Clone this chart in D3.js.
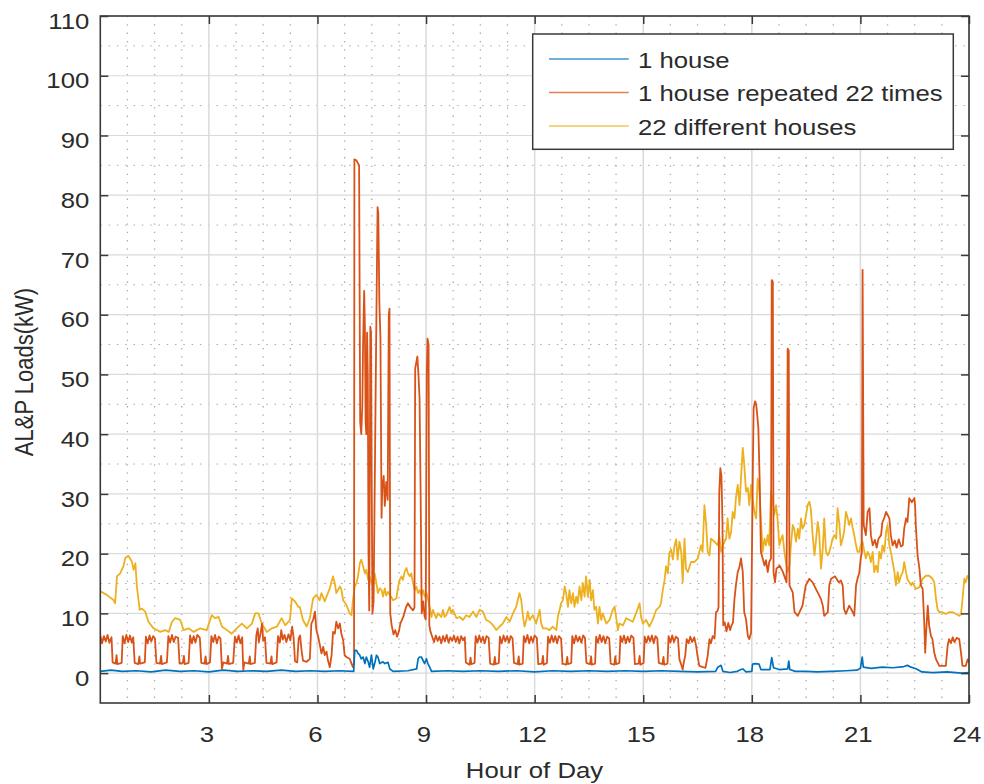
<!DOCTYPE html>
<html><head><meta charset="utf-8">
<script src="https://cdn.jsdelivr.net/npm/d3@7"></script>
<style>
html,body{margin:0;padding:0;background:#fff;}
svg{display:block;}
text{font-family:"Liberation Sans", Arial, Helvetica, sans-serif;}
</style></head><body>
<svg id="chart" width="984" height="784"></svg>
<script>
// ---------- data ----------
const xTicks = [3, 6, 9, 12, 15, 18, 21, 24];
const yTicks = [0, 10, 20, 30, 40, 50, 60, 70, 80, 90, 100, 110];
const xLabel = "Hour of Day";
const yLabel = "AL&P Loads(kW)";
const seriesNames = ["1 house", "1 house repeated 22 times", "22 different houses"];

// [hour, kW]
const oneHouse = [
[0,0.3],[0.3,0.5],[0.6,0.3],[1.0,0.4],[1.4,0.2],[1.8,0.5],[2.2,0.3],[2.6,0.4],[3.0,0.2],[3.4,0.5],[3.8,0.3],[4.2,0.4],[4.6,0.3],[5.0,0.5],[5.4,0.3],[5.8,0.4],[6.2,0.3],[6.6,0.4],[7.0,0.3],
[7.03,3.8],[7.08,3.8],[7.12,3.3],[7.16,3.1],[7.21,2.4],[7.26,2.7],[7.31,1.6],[7.35,2.7],[7.40,1.9],[7.44,1.0],[7.49,3.0],[7.54,0.7],[7.58,1.6],[7.63,3.0],[7.67,2.7],[7.72,1.6],[7.81,1.9],[7.86,1.6],[7.95,1.8],[8.0,0.7],[8.09,0.3],[8.5,0.4],[8.74,0.7],[8.78,2.4],[8.82,2.7],[8.87,2.7],[8.96,1.6],[9.01,2.4],[9.05,1.6],[9.10,1.0],[9.15,0.3],
[9.6,0.4],[10.0,0.3],[10.5,0.4],[11.0,0.3],[11.5,0.4],[12.0,0.2],[12.5,0.4],[13.0,0.3],[13.5,0.4],[14.0,0.3],[14.5,0.4],[15.0,0.3],[15.5,0.4],[16.0,0.3],[16.5,0.2],[17.0,0.3],
[17.06,1.0],[17.15,1.3],[17.2,0.3],[17.4,0.1],[17.6,0.3],[17.7,0.6],[17.75,0.7],[17.84,0.2],[18.0,0.3],[18.02,1.5],[18.1,1.6],[18.2,1.5],[18.25,0.6],[18.5,0.6],[18.55,2.6],[18.6,0.9],[18.76,0.6],[18.99,0.7],[19.02,2.0],[19.05,0.6],[19.2,0.3],[19.5,0.3],[19.8,0.2],[20.2,0.3],[20.6,0.4],[20.9,0.5],[21.0,0.8],[21.05,2.7],[21.08,1.0],[21.3,0.8],[21.6,1.0],[21.9,0.9],[22.2,1.1],[22.3,1.3],[22.4,1.0],[22.55,0.7],[22.7,0.2],[23.0,0.1],[23.4,0.2],[23.8,0.0],[24,0.1]
];

const oneHouseRepeated = [
[0,6.3],[0.05,5.0],[0.1,6.2],[0.15,5.3],[0.2,6.4],[0.25,5.1],[0.31,6.0],
[0.34,1.8],[0.42,1.6],[0.45,3.0],[0.47,1.5],[0.59,1.7],
[0.62,6.2],[0.67,5.0],[0.72,6.4],[0.77,5.2],[0.82,6.3],[0.87,5.1],[0.91,6.0],
[0.95,1.7],[1.05,1.5],[1.08,2.8],[1.1,1.6],[1.23,1.8],
[1.26,6.1],[1.31,5.0],[1.36,6.3],[1.41,5.3],[1.46,6.2],[1.51,5.8],
[1.55,1.7],[1.65,1.6],[1.68,2.9],[1.7,1.5],[1.84,1.8],
[1.88,6.2],[1.93,5.1],[1.98,6.4],[2.03,5.2],[2.08,6.1],[2.15,5.9],
[2.19,1.6],[2.28,1.7],[2.31,2.9],[2.33,1.5],[2.44,1.7],
[2.48,6.3],[2.53,5.0],[2.58,6.2],[2.63,5.1],[2.68,6.4],[2.75,5.9],
[2.79,1.7],[2.88,1.6],[2.91,2.8],[2.93,1.5],[3.03,1.8],
[3.07,6.2],[3.12,5.2],[3.17,6.4],[3.22,5.0],[3.27,6.1],[3.32,5.8],
[3.36,0.7],[3.4,1.8],[3.5,1.6],[3.53,2.9],[3.55,1.5],[3.67,1.7],
[3.72,6.1],[3.77,5.1],[3.82,6.3],[3.87,5.0],[3.92,6.0],
[3.95,0.5],[3.98,1.8],[4.1,1.6],[4.13,2.8],[4.15,1.5],[4.27,1.7],
[4.31,6.3],[4.35,7.5],[4.38,5.2],[4.42,6.4],[4.47,8.3],[4.5,5.4],[4.55,6.0],
[4.59,1.7],[4.7,1.6],[4.73,2.8],[4.75,1.5],[4.87,1.8],
[4.91,6.2],[4.96,5.1],[5.0,7.2],[5.04,5.6],[5.09,6.4],[5.14,5.2],[5.2,6.5],[5.25,5.5],[5.3,7.8],[5.34,6.0],
[5.38,2.0],[5.44,1.8],[5.48,5.8],[5.52,6.3],[5.56,3.8],[5.6,2.1],[5.7,1.9],[5.79,2.4],
[5.83,8.3],[5.88,8.9],[5.93,10.3],[5.97,7.2],[6.02,6.1],[6.06,4.9],[6.11,3.3],[6.16,4.4],[6.2,3.0],[6.25,3.6],[6.29,2.1],[6.34,1.0],[6.39,3.0],
[6.43,6.9],[6.48,6.6],[6.52,8.6],[6.57,7.5],[6.62,8.3],[6.66,6.6],[6.71,5.5],[6.75,3.0],[6.8,2.7],[6.89,2.4],[6.94,1.6],[6.98,1.0],[7.01,1.8],
[7.02,86.0],[7.08,85.8],[7.15,85.0],[7.18,42],[7.21,40],[7.24,45],[7.26,55],[7.29,64],[7.31,58],[7.33,42],[7.35,40],[7.37,57],[7.39,50],[7.41,20],[7.43,10.5],[7.45,40],[7.46,58],[7.48,57],[7.5,30],[7.52,10],[7.55,12],[7.58,30],[7.62,55],[7.66,78],[7.68,77],[7.71,62],[7.74,56],[7.77,26],[7.79,31],[7.83,33],[7.86,28],[7.9,32],[7.94,29],[7.97,60],[7.99,61],
[8.01,10],[8.05,8.0],[8.1,6.5],[8.15,7.2],[8.2,6.1],[8.25,7.0],[8.29,8.3],[8.37,9.4],[8.45,11.1],[8.5,11.7],[8.57,11.0],[8.64,10.5],[8.68,11.0],
[8.7,51],[8.73,52],[8.76,53],[8.79,50],[8.82,46],[8.85,30],[8.88,10],[8.92,12],[8.96,9.5],[8.99,9],[9.02,50],[9.04,56],[9.07,55],[9.09,8],[9.12,7.0],[9.17,6.1],
[9.22,5.2],[9.27,6.3],[9.32,5.4],[9.37,6.1],[9.42,5.0],[9.47,6.2],[9.52,5.3],[9.57,6.4],[9.62,5.1],[9.67,6.0],[9.72,5.4],[9.77,6.3],[9.82,5.2],[9.87,6.1],[9.92,5.0],[9.97,6.2],[10.02,5.5],[10.07,6.0],
[10.1,1.8],[10.2,1.4],[10.23,2.6],[10.25,1.5],[10.34,1.7],
[10.37,6.2],[10.42,5.1],[10.47,6.3],[10.52,5.2],[10.57,6.1],[10.62,5.0],[10.67,6.2],[10.73,5.9],
[10.77,1.6],[10.87,1.4],[10.9,2.7],[10.92,1.5],[11.01,1.7],
[11.04,6.1],[11.09,5.0],[11.14,6.3],[11.19,5.3],[11.24,6.2],[11.29,5.1],[11.34,6.2],[11.39,5.8],
[11.43,1.7],[11.53,1.5],[11.56,2.8],[11.58,1.4],[11.67,1.6],
[11.7,6.2],[11.75,5.2],[11.8,6.4],[11.85,5.0],[11.9,6.1],[11.95,5.2],[12.0,6.3],[12.06,5.9],
[12.1,1.5],[12.2,1.6],[12.23,2.9],[12.25,1.4],[12.34,1.7],
[12.37,6.1],[12.42,5.1],[12.47,6.3],[12.52,5.2],[12.57,6.2],[12.62,5.0],[12.67,6.2],[12.73,5.8],
[12.77,1.6],[12.87,1.4],[12.9,2.7],[12.92,1.5],[13.01,1.7],
[13.04,6.2],[13.09,5.0],[13.14,6.3],[13.19,5.3],[13.24,6.1],[13.29,5.1],[13.34,6.3],[13.39,5.9],
[13.43,1.7],[13.53,1.5],[13.56,2.8],[13.58,1.4],[13.67,1.6],
[13.7,6.1],[13.75,5.1],[13.8,6.4],[13.85,5.2],[13.9,6.2],[13.95,5.0],[14.0,6.1],[14.06,5.8],
[14.1,1.6],[14.2,1.4],[14.23,2.8],[14.25,1.5],[14.34,1.7],
[14.37,6.2],[14.42,5.2],[14.47,6.3],[14.52,5.0],[14.57,6.1],[14.62,5.2],[14.67,6.3],[14.73,5.9],
[14.77,1.5],[14.87,1.6],[14.9,2.9],[14.92,1.4],[15.01,1.7],
[15.04,6.1],[15.09,5.1],[15.14,6.2],[15.19,5.3],[15.24,6.3],[15.29,5.0],[15.34,6.2],[15.39,5.8],
[15.43,1.7],[15.53,1.5],[15.56,2.7],[15.58,1.4],[15.67,1.6],
[15.7,6.2],[15.75,5.1],[15.8,6.3],[15.85,5.2],[15.9,6.1],[15.96,5.8],
[16.0,2.3],[16.05,1.4],[16.09,0.6],[16.12,1.8],[16.16,2.9],
[16.2,5.7],[16.25,5.0],[16.3,6.1],[16.35,5.2],[16.41,6.0],[16.46,4.6],[16.5,2.9],
[16.55,1.2],[16.65,1.0],[16.72,0.9],[16.78,2.9],
[16.83,5.7],[16.87,5.0],[16.92,6.2],[16.97,5.8],[17.01,10.2],[17.05,10.4],[17.08,11],
[17.1,30],[17.13,34.3],[17.16,33],[17.19,25],[17.21,8.0],[17.25,8.5],[17.3,7.0],[17.35,8.4],[17.4,7.2],[17.44,8.0],[17.48,8.5],[17.52,12.4],[17.56,14.7],[17.61,16.9],[17.66,17.8],[17.7,19.2],[17.75,16.9],[17.79,10.2],[17.84,9.0],[17.89,6.2],[17.93,5.7],[17.98,6.8],
[18.03,35],[18.05,44.4],[18.09,45.5],[18.12,45.0],[18.14,43.8],[18.18,41.1],[18.22,31.5],[18.25,20.3],[18.3,19.2],[18.35,18.0],[18.39,18.9],[18.44,16.9],[18.48,18.6],[18.53,19.2],
[18.55,65.8],[18.58,65.5],[18.6,16.9],[18.64,15.2],[18.68,17.5],[18.77,18.0],[18.86,16.9],[18.96,15.2],
[18.99,54.3],[19.02,54],[19.04,14.7],[19.13,13.5],[19.18,10.2],[19.27,9.6],[19.4,11.3],[19.49,14.7],[19.59,15.8],[19.68,15.2],[19.77,14.1],[19.86,13.0],
[19.91,12.4],[19.96,11.3],[20.0,9.6],[20.1,10.2],[20.14,14.7],[20.19,15.8],[20.3,16.2],[20.4,15.2],[20.46,15.5],[20.51,14.7],[20.55,10.7],[20.6,9.9],[20.69,11.3],[20.79,10.2],[20.83,9.6],[20.88,14.7],[20.92,15.8],[20.97,16.9],[21.01,19.2],[21.04,20.3],
[21.06,67.5],[21.08,40],[21.09,24.8],[21.15,23.1],[21.2,27.0],[21.25,27.6],[21.29,23.1],[21.34,21.4],[21.4,22.3],[21.45,21.0],[21.5,22.5],[21.57,23.1],[21.61,25.3],[21.66,26.0],[21.71,27.0],[21.8,25.9],[21.84,23.1],[21.89,21.4],[21.95,22.2],[22.0,21.0],[22.06,22.4],[22.12,21.2],[22.17,21.4],[22.21,24.2],[22.26,25.9],[22.3,25.3],[22.35,29.3],[22.42,28.6],[22.49,29.3],[22.51,28.1],[22.53,24.8],[22.58,19.7],[22.63,17.5],[22.67,14.7],[22.72,14.1],[22.76,9.0],[22.79,3.4],[22.81,6.2],[22.86,11.3],[22.9,7.9],[22.95,6.2],[22.99,5.7],[23.04,3.4],[23.09,2.3],[23.18,1.2],[23.36,1.2],[23.41,4.6],[23.45,5.7],[23.5,5.0],[23.55,6.0],[23.6,5.2],[23.66,5.9],[23.73,5.7],[23.78,3.4],[23.82,1.2],[23.91,1.2],[23.96,2.3],[24.0,1.8]
];

const differentHouses = [
[0.00,13.7],[0.18,13.1],[0.37,12.2],[0.41,11.7],[0.46,16.2],[0.55,16.7],[0.64,17.9],[0.69,19.3],[0.78,19.6],[0.87,18.7],[0.92,17.3],[0.97,18.4],[1.01,14.5],[1.09,10.6],[1.15,10.8],[1.24,10.3],[1.33,8.6],[1.47,7.5],[1.66,6.9],[1.79,7.2],[1.89,6.9],[1.98,8.6],[2.07,9.2],[2.21,8.9],[2.30,7.2],[2.44,7.5],[2.58,6.9],[2.76,7.5],[2.94,7.2],[3.08,9.7],[3.17,9.2],[3.27,9.4],[3.36,7.8],[3.50,7.2],[3.63,6.6],[3.77,7.5],[3.91,8.3],[4.05,7.5],[4.19,8.3],[4.28,10.0],[4.37,10.0],[4.46,8.3],[4.60,6.9],[4.74,7.5],[4.88,7.8],[5.01,9.2],[5.11,8.0],[5.24,8.9],[5.29,12.5],[5.38,12.0],[5.47,11.1],
[5.51,11.1],[5.60,8.9],[5.70,7.8],[5.79,9.2],[5.88,12.5],[5.97,13.1],[6.06,12.2],[6.11,13.4],[6.20,12.0],[6.25,12.8],[6.34,14.2],[6.43,16.2],[6.48,15.0],[6.52,13.4],[6.62,14.5],[6.66,14.0],[6.71,12.2],[6.80,11.4],[6.89,10.0],[6.94,9.7],[6.98,12.2],[7.03,14.5],[7.08,15.1],[7.12,16.2],[7.17,18.4],[7.21,19.0],[7.26,17.9],[7.31,16.7],[7.35,17.3],[7.40,15.6],[7.44,16.2],[7.49,15.1],[7.54,14.5],[7.58,16.7],[7.63,15.0],[7.67,13.4],[7.72,14.2],[7.77,13.9],[7.81,12.8],[7.86,14.2],[7.90,13.0],[7.95,13.6],[8.09,12.2],[8.18,12.5],[8.23,14.5],[8.27,15.6],[8.32,16.2],[8.36,15.6],[8.41,17.0],[8.46,17.6],[8.50,16.7],[8.55,16.2],[8.59,16.7],[8.64,15.1],[8.69,13.9],[8.73,14.5],[8.78,13.4],[8.82,13.9],[8.87,13.1],[8.92,13.9],[8.96,12.8],[9.01,13.4],[9.05,12.5],[9.10,11.1],[9.15,9.4],[9.19,10.6],[9.24,9.8],[9.28,9.2],[9.33,10.0],[9.42,9.4],[9.47,10.6],[9.51,9.4],[9.56,9.7],[9.65,11.1],[9.70,10.0],[9.74,10.6],[9.84,9.2],[9.93,9.4],
[10.02,8.9],[10.11,9.7],[10.20,9.4],[10.30,10.3],[10.39,9.4],[10.48,10.6],[10.57,10.3],[10.66,8.9],[10.76,8.6],[10.85,8.0],[10.94,7.2],[11.03,7.8],[11.12,8.3],[11.22,9.4],[11.31,8.6],[11.40,10.0],[11.49,11.1],[11.58,13.4],[11.63,12.2],[11.68,9.4],[11.72,7.8],[11.77,8.9],[11.81,10.3],[11.86,8.9],[11.95,9.7],[12.04,8.3],[12.14,10.6],[12.18,8.3],[12.23,7.5],[12.32,7.5],[12.41,7.2],[12.50,7.8],[12.60,7.2],[12.64,9.4],[12.69,10.6],[12.73,11.7],[12.78,12.2],[12.83,14.5],[12.87,13.4],[12.92,11.1],[12.96,13.9],[13.01,11.7],[13.06,13.4],[13.10,11.1],[13.15,12.8],[13.19,11.7],[13.24,14.5],[13.29,12.2],[13.33,15.1],[13.38,12.8],[13.42,16.2],[13.47,12.8],[13.52,15.6],[13.56,12.2],[13.61,13.9],[13.65,10.6],[13.70,11.1],[13.75,8.3],[13.79,11.1],[13.84,8.9],[13.88,10.0],[13.98,8.3],[14.07,8.9],[14.16,10.6],[14.21,11.1],[14.25,9.4],[14.30,7.2],[14.34,8.3],[14.44,8.0],[14.53,9.2],[14.62,8.9],[14.71,8.6],[14.80,10.0],[14.90,11.7],[14.94,9.4],[14.99,8.3],[15.08,8.9],[15.17,7.8],[15.26,8.9],[15.36,10.6],[15.45,11.1],[15.49,11.7],[15.54,13.9],[15.59,15.6],[15.63,17.9],[15.68,16.7],[15.72,20.1],[15.77,20.7],[15.82,19.0],[15.86,21.2],[15.91,22.4],[15.95,19.0],
[16.00,22.0],[16.05,20.3],[16.09,15.2],[16.14,22.5],[16.18,17.5],[16.23,16.9],[16.32,18.6],[16.41,18.6],[16.51,19.2],[16.55,20.3],[16.60,21.4],[16.64,20.3],[16.69,28.1],[16.74,24.8],[16.78,20.3],[16.83,19.7],[16.87,22.5],[16.97,22.0],[17.06,21.4],[17.10,23.1],[17.15,20.3],[17.20,21.4],[17.29,22.5],[17.33,25.9],[17.38,22.5],[17.43,23.7],[17.47,27.0],[17.52,25.9],[17.56,29.3],[17.61,31.5],[17.66,28.1],[17.70,32.6],[17.75,37.7],[17.79,34.9],[17.84,30.4],[17.89,31.0],[17.93,28.1],[17.98,31.5],[18.02,29.3],[18.07,27.0],[18.12,25.9],[18.16,32.6],[18.21,30.4],[18.25,25.9],[18.30,20.3],[18.35,22.5],[18.39,21.4],[18.44,23.1],[18.48,21.4],[18.53,30.4],[18.58,28.7],[18.62,26.5],[18.67,28.1],[18.71,25.9],[18.76,21.4],[18.81,22.5],[18.85,23.1],[18.90,20.3],[18.94,18.6],[18.99,16.9],[19.04,18.0],[19.08,21.4],[19.13,24.8],[19.17,24.2],[19.22,22.0],[19.27,24.2],[19.31,22.5],[19.36,25.9],[19.40,24.2],[19.45,24.8],[19.50,26.5],[19.54,28.1],[19.59,28.7],[19.63,27.5],[19.68,23.1],[19.73,19.7],[19.77,22.0],[19.82,25.3],[19.86,23.6],
[19.91,17.5],[19.96,20.8],[20.00,25.9],[20.05,20.3],[20.10,19.7],[20.14,20.3],[20.19,21.4],[20.23,22.5],[20.28,23.1],[20.33,22.5],[20.37,27.6],[20.42,24.8],[20.46,21.4],[20.51,22.5],[20.55,23.7],[20.60,27.0],[20.65,25.9],[20.69,24.8],[20.74,25.9],[20.79,24.2],[20.83,23.1],[20.88,21.4],[20.92,20.3],[20.97,20.3],[21.01,21.4],[21.06,22.0],[21.11,20.3],[21.15,19.2],[21.20,20.3],[21.25,19.7],[21.29,18.6],[21.34,20.3],[21.38,16.9],[21.43,18.0],[21.48,16.9],[21.52,20.3],[21.57,19.2],[21.61,21.4],[21.66,20.3],[21.71,23.7],[21.75,24.8],[21.80,21.4],[21.84,20.3],[21.89,18.6],[21.94,16.9],[21.98,14.7],[22.03,16.9],[22.07,15.2],[22.12,16.3],[22.17,16.9],[22.21,18.6],[22.26,16.9],[22.30,15.7],[22.35,15.2],[22.40,14.7],[22.44,15.2],[22.53,14.1],[22.63,14.4],[22.72,15.8],[22.81,16.3],[22.90,16.3],[22.99,15.8],[23.04,15.2],[23.09,12.4],[23.13,10.7],[23.18,10.2],[23.27,10.2],[23.36,9.9],[23.45,10.2],[23.55,10.2],[23.64,9.9],[23.73,9.6],[23.78,9.9],[23.82,12.4],[23.87,15.8],[23.91,15.2],[23.96,16.3],[24.00,15.8]
];

// ---------- layout ----------
const svg = d3.select("#chart");
const L = 100.3, R = 969, T = 16, B = 703;
const SX = 1.17; // horizontal stretch of the reference's type
const x = d3.scaleLinear().domain([0, 24]).range([L, R]);
const y = d3.scaleLinear().domain([-5, 110]).range([B, T]);
const colors = ["#0072BD", "#D95319", "#EDB120"];
const axisColor = "#3a3a3a";
const textColor = "#2b2b2b";

svg.append("rect").attr("width", 984).attr("height", 784).attr("fill", "#fff");

// minor grid
const xMinor = d3.range(0.75, 24, 0.75).filter(v => Math.abs(v / 3 - Math.round(v / 3)) > 1e-6);
const yMinor = d3.range(-5, 110, 10).filter(v => v > -5);
const grid = svg.append("g");
grid.selectAll(".xm").data(xMinor).join("line")
  .attr("x1", d => x(d)).attr("x2", d => x(d)).attr("y1", T).attr("y2", B)
  .attr("stroke", "#a8a8a8").attr("stroke-width", 1.3).attr("stroke-dasharray", "1.3,7");
grid.selectAll(".ym").data(yMinor).join("line")
  .attr("x1", L).attr("x2", R).attr("y1", d => y(d)).attr("y2", d => y(d))
  .attr("stroke", "#a8a8a8").attr("stroke-width", 1).attr("stroke-dasharray", "1.5,6.8");
// major grid
grid.selectAll(".xg").data(xTicks).join("line")
  .attr("x1", d => x(d)).attr("x2", d => x(d)).attr("y1", T).attr("y2", B)
  .attr("stroke", "#dadada").attr("stroke-width", 1.5);
grid.selectAll(".yg").data(yTicks).join("line")
  .attr("x1", L).attr("x2", R).attr("y1", d => y(d)).attr("y2", d => y(d))
  .attr("stroke", "#dadada").attr("stroke-width", 1.2);

// lines
svg.append("clipPath").attr("id", "clip").append("rect")
  .attr("x", L).attr("y", T).attr("width", R - L).attr("height", B - T);
const line = d3.line().x(d => x(d[0])).y(d => y(d[1]));
const plot = svg.append("g").attr("clip-path", "url(#clip)");
const drawOrder = [[differentHouses, colors[2], 1.8], [oneHouseRepeated, colors[1], 1.8], [oneHouse, colors[0], 1.7]];
drawOrder.forEach(([data, c, w]) => {
  plot.append("path").datum(data).attr("d", line)
    .attr("fill", "none").attr("stroke", c).attr("stroke-width", w)
    .attr("stroke-linejoin", "round");
});

// axes
function styleAxis(g) {
  g.select(".domain").remove();
  g.selectAll(".tick line").attr("stroke", axisColor).attr("stroke-width", 1.5);
  g.selectAll(".tick text").attr("fill", textColor).style("font-size", "22px")
    .style("font-family", '"Liberation Sans", Arial, sans-serif');
}
const gx = svg.append("g").attr("transform", `translate(0,${B})`)
  .call(d3.axisBottom(x).tickValues(xTicks).tickSize(-8).tickSizeOuter(0).tickPadding(23).tickFormat(d3.format("d")));
styleAxis(gx);
gx.selectAll(".tick text").attr("transform", `scale(${SX},1)`).attr("x", -2.2);

const gy = svg.append("g").attr("transform", `translate(${L},0)`)
  .call(d3.axisLeft(y).tickValues(yTicks).tickSize(-8).tickSizeOuter(0).tickPadding(11).tickFormat(d3.format("d")));
styleAxis(gy);
gy.selectAll(".tick text").attr("dy", "0.55em").attr("x", -11 / SX).attr("transform", `scale(${SX},1)`);

const gt = svg.append("g").attr("transform", `translate(0,${T})`)
  .call(d3.axisTop(x).tickValues(xTicks).tickSize(-8).tickSizeOuter(0).tickFormat(""));
styleAxis(gt);
const gr = svg.append("g").attr("transform", `translate(${R},0)`)
  .call(d3.axisRight(y).tickValues(yTicks).tickSize(-8).tickSizeOuter(0).tickFormat(""));
styleAxis(gr);

// box
svg.append("rect").attr("x", L).attr("y", T).attr("width", R - L).attr("height", B - T)
  .attr("fill", "none").attr("stroke", axisColor).attr("stroke-width", 1.6);

// axis labels
svg.append("g").attr("transform", `translate(534.5,778) scale(${SX},1)`)
  .append("text").attr("text-anchor", "middle").attr("fill", textColor)
  .style("font-size", "22px").text(xLabel);
svg.append("g").attr("transform", `translate(33,372) scale(${SX},1) rotate(-90)`)
  .append("text").attr("text-anchor", "middle").attr("fill", textColor)
  .style("font-size", "22px").text(yLabel);

// legend
const lg = svg.append("g");
lg.append("rect").attr("x", 532.7).attr("y", 34).attr("width", 420.6).attr("height", 115.3)
  .attr("fill", "#fff").attr("stroke", axisColor).attr("stroke-width", 1.5);
const rowY = [59, 92.5, 126];
seriesNames.forEach((name, i) => {
  lg.append("line").attr("x1", 549).attr("x2", 628.7).attr("y1", rowY[i]).attr("y2", rowY[i])
    .attr("stroke", colors[i]).attr("stroke-width", 1.6).attr("stroke-opacity", 0.75);
  lg.append("g").attr("transform", `translate(638,${rowY[i] + 8.5}) scale(${SX},1)`)
    .append("text").attr("fill", textColor).style("font-size", "22px").text(name);
});
</script>
</body></html>
